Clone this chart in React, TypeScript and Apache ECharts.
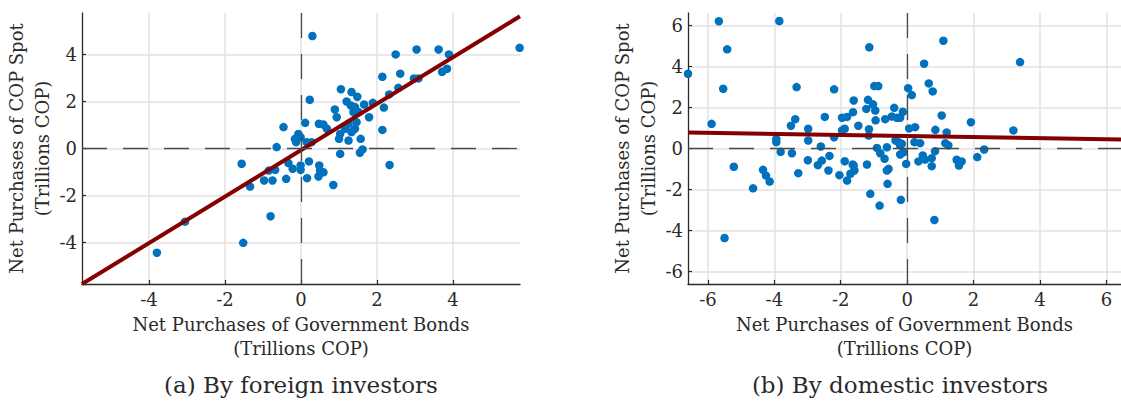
import React, { useEffect, useRef } from "react";
import * as echarts from "echarts";

// (a) foreign investors: [bonds, spot]
const foreignPoints: [number, number][] = [
  [5.75, 4.28], [0.30, 4.78], [2.49, 4.0], [3.04, 4.21], [3.62, 4.21], [3.89, 4.0],
  [3.84, 3.39], [3.71, 3.26], [2.61, 3.18], [2.14, 3.05], [2.97, 2.98], [3.09, 2.98],
  [2.56, 2.58], [2.32, 2.30], [1.05, 2.52], [1.33, 2.40], [1.48, 2.20], [0.23, 2.07],
  [1.20, 2.0], [1.31, 1.83], [1.42, 1.76], [1.66, 1.87], [1.89, 1.94], [2.18, 1.74],
  [0.89, 1.66], [1.38, 1.55], [1.51, 1.55], [1.79, 1.33], [0.94, 1.33], [0.11, 1.09],
  [-0.46, 0.91], [0.47, 1.05], [0.59, 1.02], [0.68, 0.84], [1.25, 1.05], [1.46, 1.12],
  [1.16, 0.84], [1.33, 0.70], [1.42, 0.84], [2.14, 0.79], [1.03, 0.62], [1.0, 0.41],
  [1.25, 0.34], [1.57, 0.41], [-0.07, 0.62], [-0.16, 0.41], [-0.13, 0.27], [-0.01, 0.48],
  [0.15, 0.27], [0.28, 0.27], [-0.64, 0.06], [1.03, -0.23], [1.55, -0.18], [1.62, -0.04],
  [2.33, -0.70], [-1.56, -0.65], [-0.68, -0.91], [-0.85, -0.94], [-0.97, -1.36], [-0.75, -1.36],
  [-0.39, -1.29], [-1.34, -1.62], [-0.33, -0.62], [-0.22, -0.86], [-0.01, -0.72], [-0.01, -0.91],
  [0.21, -0.55], [0.48, -0.72], [0.50, -0.94], [0.59, -1.01], [0.46, -1.19], [0.16, -1.26],
  [0.85, -1.55], [-3.79, -4.43], [-3.05, -3.11], [-1.52, -4.01], [-0.80, -2.88],
];

// (b) domestic investors: [bonds, spot]
const domesticPoints: [number, number][] = [
  [-6.60, 3.64], [-5.67, 6.20], [-3.85, 6.21], [-5.42, 4.83], [-5.54, 2.91], [-5.89, 1.20],
  [-5.22, -0.89], [-4.64, -1.94], [-4.34, -1.04], [-4.25, -1.32], [-4.14, -1.61], [-3.94, 0.47],
  [-3.94, 0.31], [-3.81, -0.16], [-3.33, 2.99], [-3.37, 1.43], [-3.50, 1.11], [-3.47, -0.23],
  [-3.28, -1.20], [-2.98, 0.96], [-2.98, 0.39], [-2.99, -0.57], [-2.48, 1.54], [-2.20, 2.88],
  [-2.20, 0.55], [-2.60, 0.10], [-2.57, -0.59], [-2.69, -0.81], [-2.34, -0.36], [-2.37, -1.07],
  [-2.04, -1.30], [-1.81, -1.56], [-1.88, -0.62], [-1.64, -0.78], [-1.59, -1.07], [-1.71, -1.23],
  [-1.96, 1.50], [-1.81, 1.54], [-1.61, 2.34], [-1.63, 1.77], [-1.47, 1.11], [-1.96, 0.88],
  [-1.88, 0.96], [-1.14, 4.93], [-0.99, 3.04], [-0.87, 3.04], [1.09, 5.25], [0.51, 4.13],
  [0.65, 3.17], [0.77, 2.78], [0.03, 2.94], [0.14, 2.60], [-1.18, 2.37], [-1.03, 2.15],
  [-1.23, 1.93], [-0.96, 1.85], [-0.39, 1.98], [-0.13, 1.79], [-0.46, 1.56], [-0.31, 1.50],
  [-0.21, 1.50], [-0.66, 1.43], [-0.95, 1.37], [-1.15, 0.94], [-1.16, 0.63], [-0.91, 0.03],
  [-0.61, 0.06], [-0.35, 0.39], [-0.26, 0.31], [-0.16, 0.23], [0.06, 0.98], [0.24, 1.04],
  [0.22, 0.31], [0.39, 0.26], [1.04, 1.61], [0.85, 0.91], [1.19, 0.78], [1.15, 0.26],
  [1.24, 0.15], [1.92, 1.28], [2.32, -0.05], [3.40, 4.21], [3.20, 0.88], [2.11, -0.42],
  [1.49, -0.55], [1.64, -0.63], [1.56, -0.83], [0.84, -0.13], [0.74, -0.47], [0.74, -0.86],
  [0.47, -0.34], [0.54, -0.54], [0.34, -0.63], [-0.03, -0.75], [-0.11, -0.18], [-0.21, -0.29],
  [-0.81, -0.23], [-0.68, -0.50], [-1.21, -0.78], [-1.61, -0.83], [-0.61, -1.07], [-0.56, -0.99],
  [-0.59, -1.72], [-1.11, -2.21], [-0.83, -2.78], [-0.19, -2.50], [0.82, -3.48], [-5.50, -4.36],
  [-0.21, 0.15],
];

// fitted lines: [slope, intercept]
const foreignFit = [0.988, -0.07];
const domesticFit = [-0.026, 0.61];

// axis ranges
const foreignXRange = [-5.76, 5.76];
const foreignYRange = [-5.76, 5.76];
const domesticXRange = [-6.6, 6.44];
const domesticYRange = [-6.6, 6.6];

const captions = ["(a) By foreign investors", "(b) By domestic investors"];
const xTitle = "Net Purchases of Government Bonds\n(Trillions COP)";
const yTitle = "Net Purchases of COP Spot\n(Trillions COP)";

const FONT = "DejaVu Serif";
const TXT = "#2a2a2a";

function xAxisCfg(gi: number, r: number[]) {
  return {
    type: "value", gridIndex: gi, min: r[0], max: r[1], splitNumber: 6,
    axisLine: { show: true, onZero: false, lineStyle: { color: TXT, width: 1.3 } },
    axisTick: { show: true, inside: true, length: 4, lineStyle: { color: TXT, width: 1.2 } },
    axisLabel: { show: true, fontSize: 18, color: TXT, fontFamily: FONT, margin: 6, showMinLabel: false, showMaxLabel: false },
    splitLine: { show: true, showMinLine: false, showMaxLine: false, lineStyle: { color: "#e2e2e2", width: 1.5 } },
    name: xTitle, nameLocation: "middle", nameGap: 20,
    nameTextStyle: { fontSize: 18, lineHeight: 24, color: TXT, fontFamily: FONT },
  };
}
function yAxisCfg(gi: number, r: number[], gap: number) {
  return {
    type: "value", gridIndex: gi, min: r[0], max: r[1], splitNumber: 6,
    axisLine: { show: true, onZero: false, lineStyle: { color: TXT, width: 1.3 } },
    axisTick: { show: true, inside: true, length: 4, lineStyle: { color: TXT, width: 1.2 } },
    axisLabel: { show: true, fontSize: 18, color: TXT, fontFamily: FONT, margin: 5, showMinLabel: false, showMaxLabel: false },
    splitLine: { show: true, showMinLine: false, showMaxLine: false, lineStyle: { color: "#e2e2e2", width: 1.5 } },
    name: yTitle, nameLocation: "middle", nameGap: gap, nameRotate: 90,
    nameTextStyle: { fontSize: 18, lineHeight: 26, color: TXT, fontFamily: FONT },
  };
}

function zeroLines(gi: number) {
  return {
    type: "scatter", xAxisIndex: gi, yAxisIndex: gi, data: [], z: 1, silent: true,
    markLine: {
      silent: true, symbol: "none", animation: false,
      label: { show: false },
      lineStyle: { color: "#4a4a4a", width: 1.3, type: [25, 16] },
      data: [{ xAxis: 0 }, { yAxis: 0 }],
    },
  };
}
function scatter(gi: number, pts: [number, number][]) {
  return {
    type: "scatter", xAxisIndex: gi, yAxisIndex: gi, data: pts, z: 2,
    symbolSize: 8.5, itemStyle: { color: "#0072BD", opacity: 1 },
  };
}
function fitLine(gi: number, fit: number[], r: number[]) {
  return {
    type: "line", xAxisIndex: gi, yAxisIndex: gi, z: 3, symbol: "none",
    data: r.map((x) => [x, fit[0] * x + fit[1]]),
    lineStyle: { color: "#850000", width: 4 },
  };
}

export default function App() {
  const ref = useRef<HTMLDivElement>(null);
  useEffect(() => {
    if (!ref.current) return;
    const chart = echarts.init(ref.current, undefined, { renderer: "svg" });
    chart.setOption({
      animation: false,
      backgroundColor: "#ffffff",
      textStyle: { fontFamily: FONT },
      grid: [
        { left: 82, top: 13, width: 438, height: 271 },
        { left: 688, top: 13, width: 433, height: 271 },
      ],
      xAxis: [xAxisCfg(0, foreignXRange), xAxisCfg(1, domesticXRange)],
      yAxis: [yAxisCfg(0, foreignYRange, 26), yAxisCfg(1, domesticYRange, 25)],
      series: [
        zeroLines(0), scatter(0, foreignPoints), fitLine(0, foreignFit, foreignXRange),
        zeroLines(1), scatter(1, domesticPoints), fitLine(1, domesticFit, domesticXRange),
      ],
      graphic: [
        { type: "text", x: 301, y: 385, style: { text: captions[0], fill: TXT, fontSize: 23, fontFamily: FONT, textAlign: "center", textVerticalAlign: "middle" } },
        { type: "text", x: 900, y: 385, style: { text: captions[1], fill: TXT, fontSize: 23, fontFamily: FONT, textAlign: "center", textVerticalAlign: "middle" } },
      ],
    });
    return () => chart.dispose();
  }, []);
  return <div ref={ref} style={{ position: "absolute", left: 0, top: 0, width: 1121, height: 401 }} />;
}
